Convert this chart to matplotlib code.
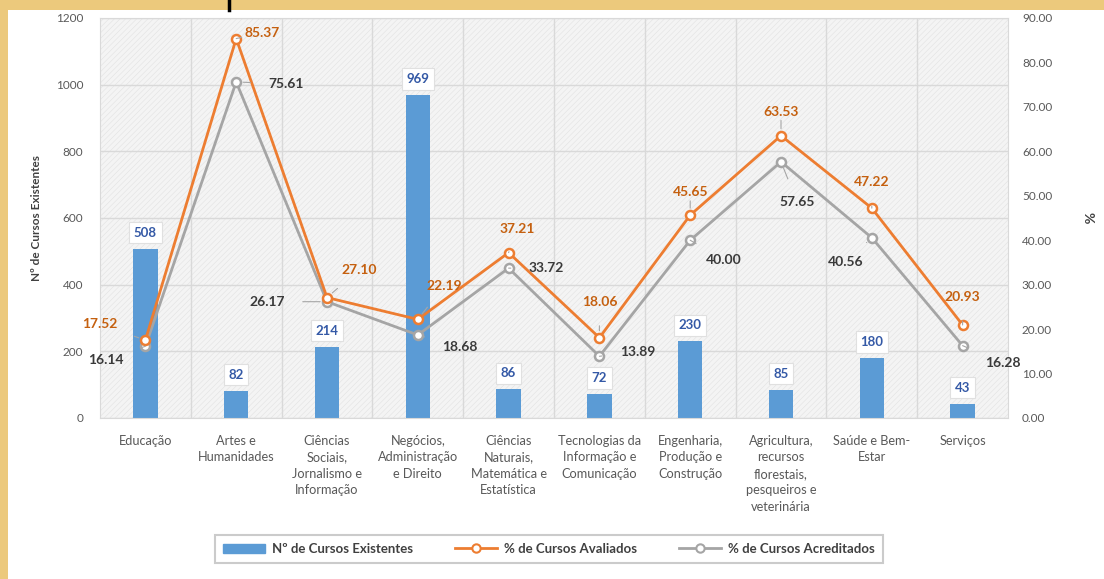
import matplotlib.pyplot as plt
import numpy as np
from matplotlib.patches import Rectangle
from matplotlib.lines import Line2D

plt.rcParams['font.family'] = ['Lato', 'DejaVu Sans']
plt.rcParams['hatch.linewidth'] = 0.4

categories = ['Educação', 'Artes e\nHumanidades', 'Ciências\nSociais,\nJornalismo e\nInformação',
              'Negócios,\nAdministração\ne Direito', 'Ciências\nNaturais,\nMatemática e\nEstatística',
              'Tecnologias da\nInformação e\nComunicação', 'Engenharia,\nProdução e\nConstrução',
              'Agricultura,\nrecursos\nflorestais,\npesqueiros e\nveterinária', 'Saúde e Bem-\nEstar',
              'Serviços']
n_cursos = [508, 82, 214, 969, 86, 72, 230, 85, 180, 43]
pct_avaliados = [17.52, 85.37, 27.10, 22.19, 37.21, 18.06, 45.65, 63.53, 47.22, 20.93]
pct_acreditados = [16.14, 75.61, 26.17, 18.68, 33.72, 13.89, 40.00, 57.65, 40.56, 16.28]

# label offsets in pixels (dx, dy)
off_aval = [(-46, 16), (26, 6), (32, 28), (26, 33), (9, 24), (0, 36), (0, 23), (0, 24), (0, 26), (0, 28)]
off_acred = [(-40, -14), (50, -2), (-60, 0), (42, -12), (38, 0), (38, 4), (34, -20), (16, -40), (-26, -24), (40, -17)]

BLUE = '#5b9bd5'
ORANGE = '#ed7d31'
GRAY = '#a5a5a5'

fig = plt.figure(figsize=(11.04, 5.79), dpi=100, facecolor='#ecc97c')
fig.patches.append(Rectangle((8 / 1104, 0), 1, 1 - 10 / 579, transform=fig.transFigure,
                             facecolor='white', edgecolor='none', zorder=-10))
fig.add_artist(Line2D([229 / 1104, 229 / 1104], [1, 1 - 10 / 579], color='black', lw=2.5))

ax = fig.add_axes([100 / 1104, 1 - 418 / 579, 908 / 1104, 400 / 579])
ax.set_facecolor('#f4f4f4')
ax.add_patch(Rectangle((0, 0), 1, 1, transform=ax.transAxes, facecolor='none',
                       edgecolor='#e2e2e2', hatch='//////', lw=0, zorder=0))

x = np.arange(len(categories))
ax.bar(x, n_cursos, width=0.27, color=BLUE, zorder=2)
ax.set_xlim(-0.5, len(categories) - 0.5)
ax.set_ylim(0, 1200)
ax.set_yticks(range(0, 1201, 200))
ax.set_xticks(x)
ax.set_xticklabels(categories, fontsize=9.2, color='#595959', linespacing=1.45)
ax.set_xticks(np.arange(0.5, len(categories) - 0.5), minor=True)
ax.tick_params(axis='x', which='both', length=0, pad=12)
ax.tick_params(axis='y', length=0, labelsize=8.5, labelcolor='#595959', pad=12)
ax.grid(axis='y', color='#d9d9d9', lw=1)
ax.grid(axis='x', which='minor', color='#d9d9d9', lw=1)
ax.set_axisbelow(True)
for s in ax.spines.values():
    s.set_color('#d9d9d9')
ax.set_ylabel('Nº de Cursos Existentes', fontsize=8.5, color='#404040', fontweight='bold', labelpad=10)

for xi, v in zip(x, n_cursos):
    ax.annotate(str(v), (xi, v), xytext=(0, 16), textcoords='offset pixels', ha='center', va='center',
                fontsize=9.5, fontweight='bold', color='#3459a6', zorder=6,
                bbox=dict(boxstyle='square,pad=0.35', fc='white', ec='#e0e0e0', lw=0.8))

ax2 = ax.twinx()
ax2.set_ylim(0, 90)
ax2.set_yticks(range(0, 91, 10))
ax2.set_yticklabels([f'{t:.2f}' for t in range(0, 91, 10)])
ax2.tick_params(axis='y', length=0, labelsize=8.5, labelcolor='#595959', pad=10)
for s in ax2.spines.values():
    s.set_visible(False)
ax2.set_ylabel('%', fontsize=10, color='#404040', fontweight='bold', rotation=-90, labelpad=30)

ax2.plot(x, pct_avaliados, color=ORANGE, lw=2, marker='o', ms=6.5, mfc='white', mec=ORANGE, mew=1.8,
         zorder=4, label='% de Cursos Avaliados')
ax2.plot(x, pct_acreditados, color=GRAY, lw=2, marker='o', ms=6.5, mfc='white', mec=GRAY, mew=1.8,
         zorder=3, label='% de Cursos Acreditados')

for xi, v, o in zip(x, pct_avaliados, off_aval):
    ax2.annotate(f'{v:.2f}', (xi, v), xytext=o, textcoords='offset pixels', ha='center', va='center',
                 fontsize=10, fontweight='bold', color='#c5600f', zorder=6,
                 arrowprops=dict(arrowstyle='-', color='#a6a6a6', lw=0.8, shrinkA=11, shrinkB=5))
for xi, v, o in zip(x, pct_acreditados, off_acred):
    ax2.annotate(f'{v:.2f}', (xi, v), xytext=o, textcoords='offset pixels', ha='center', va='center',
                 fontsize=10, fontweight='bold', color='#3a3a3a', zorder=6,
                 arrowprops=dict(arrowstyle='-', color='#a6a6a6', lw=0.8, shrinkA=11, shrinkB=5))

handles = [Rectangle((0, 0), 1, 1, color=BLUE),
           Line2D([], [], color=ORANGE, lw=2, marker='o', ms=6, mfc='white', mec=ORANGE, mew=1.5),
           Line2D([], [], color=GRAY, lw=2, marker='o', ms=6, mfc='white', mec=GRAY, mew=1.5)]
labels = ['Nº de Cursos Existentes', '% de Cursos Avaliados', '% de Cursos Acreditados']
leg = fig.legend(handles, labels, loc='center', bbox_to_anchor=(549 / 1104, 1 - 549 / 579), ncol=3,
                 fontsize=9.5, frameon=True, fancybox=False, edgecolor='#bfbfbf', columnspacing=3.2,
                 handlelength=3.2, handletextpad=0.5, borderpad=0.6, borderaxespad=0)
leg.get_frame().set_linewidth(1.5)
for t in leg.get_texts():
    t.set_color('#404040')
    t.set_fontweight('bold')

fig.savefig('out.png', dpi=100, facecolor=fig.get_facecolor())
